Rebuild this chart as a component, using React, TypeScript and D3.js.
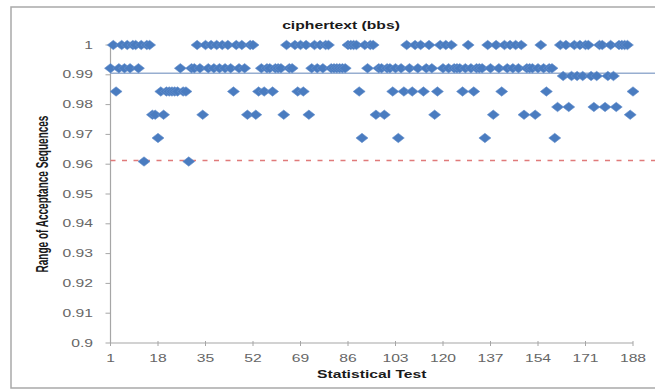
import React from "react";
import * as d3 from "d3";

// Proportion of passing sequences per statistical test (1..188)
const PROPORTIONS: number[] = [
  0.9922, 1, 0.9844, 0.9922, 1, 0.9922, 1, 0.9922, 1, 1,
  0.9922, 1, 0.9609, 1, 1, 0.9766, 0.9766, 0.9688, 0.9844, 0.9766,
  0.9844, 0.9844, 0.9844, 0.9844, 0.9844, 0.9922, 0.9844, 0.9844, 0.9609, 0.9922,
  0.9922, 1, 0.9922, 0.9766, 1, 0.9922, 1, 0.9922, 1, 0.9922,
  1, 0.9922, 1, 0.9922, 0.9844, 1, 0.9922, 1, 0.9922, 0.9766,
  1, 1, 0.9766, 0.9844, 0.9922, 0.9844, 0.9922, 0.9922, 0.9844, 0.9922,
  0.9922, 0.9922, 0.9766, 1, 0.9922, 0.9922, 1, 0.9844, 1, 0.9844,
  1, 0.9766, 0.9922, 1, 0.9922, 1, 0.9922, 1, 1, 0.9922,
  0.9922, 0.9922, 0.9922, 0.9922, 0.9922, 1, 1, 1, 1, 0.9844,
  0.9688, 1, 0.9922, 1, 1, 0.9766, 0.9922, 0.9922, 0.9766, 0.9922,
  0.9922, 0.9844, 0.9922, 0.9688, 0.9922, 0.9844, 1, 0.9922, 0.9844, 1,
  0.9922, 1, 0.9844, 0.9922, 1, 0.9922, 0.9766, 0.9844, 1, 0.9922,
  1, 0.9922, 1, 0.9922, 0.9922, 0.9922, 0.9844, 0.9922, 1, 0.9922,
  0.9844, 0.9922, 0.9922, 0.9922, 0.9688, 1, 0.9922, 0.9766, 1, 0.9922,
  0.9844, 1, 0.9922, 1, 0.9922, 1, 0.9922, 1, 0.9766, 0.9922,
  0.9922, 0.9922, 0.9766, 0.9922, 1, 0.9922, 0.9844, 0.9922, 0.9922, 0.9688,
  0.9792, 1, 0.9896, 1, 0.9792, 0.9896, 1, 0.9896, 1, 0.9896,
  1, 1, 0.9896, 0.9792, 0.9896, 1, 1, 0.9792, 0.9896, 1,
  0.9896, 0.9792, 1, 1, 1, 1, 0.9766, 0.9844,
];
const TESTS: number[] = PROPORTIONS.map((_, i) => i + 1);

const X_TICKS: number[] = [1, 18, 35, 52, 69, 86, 103, 120, 137, 154, 171, 188];
const Y_TICKS: number[] = [0.9, 0.91, 0.92, 0.93, 0.94, 0.95, 0.96, 0.97, 0.98, 0.99, 1];
const Y_TICK_LABELS: string[] = ["0.9", "0.91", "0.92", "0.93", "0.94", "0.95", "0.96", "0.97", "0.98", "0.99", "1"];

const MEAN_LINE = 0.9905;
const THRESHOLD_LINE = 0.9612;

const TITLE = "ciphertext (bbs)";
const X_TITLE = "Statistical Test";
const Y_TITLE = "Range of Acceptance Sequences";

const SX = 1.57; // horizontal stretch of the picture
const FONT = "'Liberation Sans', Arial, sans-serif";

export default function App() {
  const x = d3.scaleLinear().domain([1, 188]).range([110.5, 633]);
  const y = d3.scaleLinear().domain([0.9, 1]).range([343, 45]);
  const plotLeft = x(1);
  const plotRight = x(188);
  const diamond = "M0,-4.7L6,0L0,4.7L-6,0Z";

  return (
    <svg
      width={655}
      height={391}
      style={{ position: "absolute", left: 0, top: 0, background: "#fff" }}
    >
      <rect x={0} y={0} width={655} height={391} fill="#fff" />
      {/* chart area border */}
      <rect x={11} y={7} width={680} height={381} fill="none" stroke="#a9a9a9" strokeWidth={1.5} />

      {/* title */}
      <text
        transform={`translate(341,29) scale(${SX},1)`}
        textAnchor="middle"
        fontFamily={FONT}
        fontWeight="bold"
        fontSize={10}
        fill="#1a1a1a"
      >
        {TITLE}
      </text>

      {/* axes */}
      <line x1={plotLeft} x2={plotLeft} y1={y(1)} y2={y(0.9)} stroke="#a6a6a6" strokeWidth={1.2} />
      <line x1={plotLeft} x2={plotRight} y1={y(0.9)} y2={y(0.9)} stroke="#a6a6a6" strokeWidth={1.2} />
      {Y_TICKS.map((t, i) => (
        <g key={`yt${i}`}>
          <line x1={plotLeft - 5} x2={plotLeft} y1={y(t)} y2={y(t)} stroke="#a6a6a6" strokeWidth={1} />
          <text
            transform={`translate(93,${y(t) + 3.5}) scale(${SX},1)`}
            textAnchor="end"
            fontFamily={FONT}
            fontSize={10}
            fill="#666"
          >
            {Y_TICK_LABELS[i]}
          </text>
        </g>
      ))}
      {X_TICKS.map((t, i) => (
        <g key={`xt${i}`}>
          <line x1={x(t)} x2={x(t)} y1={y(0.9) - 2} y2={y(0.9) + 3} stroke="#a6a6a6" strokeWidth={1} />
          <text
            transform={`translate(${x(t)},${y(0.9) + 19}) scale(${SX},1)`}
            textAnchor="middle"
            fontFamily={FONT}
            fontSize={10}
            fill="#666"
          >
            {t}
          </text>
        </g>
      ))}

      {/* axis titles */}
      <text
        transform={`translate(${(plotLeft + plotRight) / 2},378) scale(${SX},1)`}
        textAnchor="middle"
        fontFamily={FONT}
        fontWeight="bold"
        fontSize={10}
        fill="#1a1a1a"
      >
        {X_TITLE}
      </text>
      <text
        transform={`translate(48,${(y(1) + y(0.9)) / 2}) scale(${SX},1) rotate(-90)`}
        textAnchor="middle"
        fontFamily={FONT}
        fontWeight="bold"
        fontSize={10}
        fill="#1a1a1a"
      >
        {Y_TITLE}
      </text>

      {/* reference lines */}
      <line x1={plotLeft} x2={655} y1={y(MEAN_LINE)} y2={y(MEAN_LINE)} stroke="#97aed0" strokeWidth={1.6} />
      <line
        x1={plotLeft}
        x2={655}
        y1={y(THRESHOLD_LINE)}
        y2={y(THRESHOLD_LINE)}
        stroke="#e07a7a"
        strokeWidth={1.5}
        strokeDasharray="5,6.5"
      />

      {/* points */}
      {TESTS.map((t, i) => (
        <path
          key={`p${i}`}
          d={diamond}
          transform={`translate(${x(t)},${y(PROPORTIONS[i])})`}
          fill="#4a7cc0"
          stroke="#6690cc"
          strokeWidth={0.6}
        />
      ))}
    </svg>
  );
}
